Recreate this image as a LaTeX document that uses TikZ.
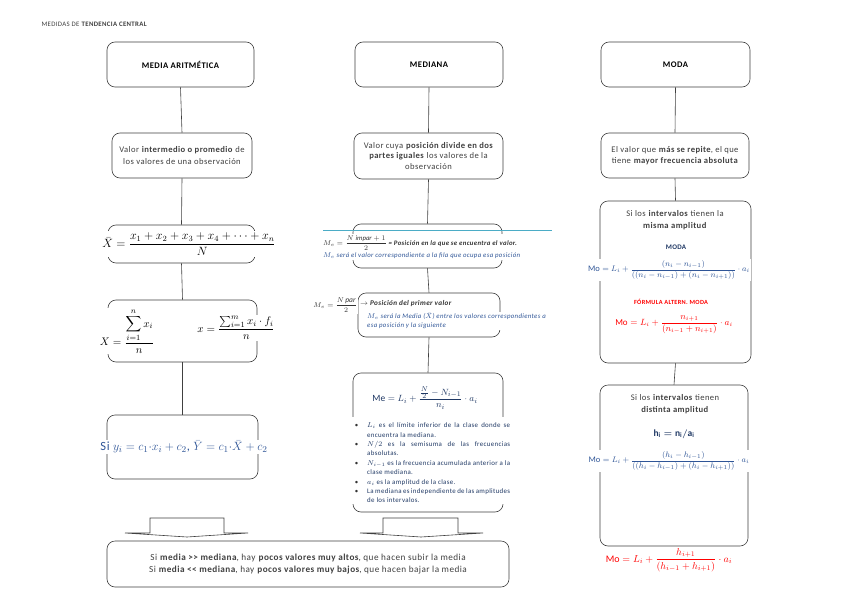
\documentclass[tikz,border=0pt]{standalone}
\usepackage{fontspec}
\setmainfont{Carlito}[LetterSpace=5]
\usepackage{amsmath}
\definecolor{fblue}{HTML}{2F5597}
\definecolor{dblue}{HTML}{1F3864}
\definecolor{cyanl}{HTML}{4BACC6}
\definecolor{tgray}{HTML}{404040}
\begin{document}
\begin{tikzpicture}[x=1pt,y=-1pt,
  box/.style={draw=black!75, rounded corners=8pt, line width=0.6pt, inner sep=0pt},
  ttl/.style={font=\bfseries\fontsize{8.6}{10}\selectfont},
  txt/.style={font=\fontsize{8.6}{11.5}\selectfont, align=center, text=tgray},
  fml/.style={fill=white, inner sep=1pt},
  conn/.style={draw=black!75, line width=0.6pt},
  barrow/.style={draw=black!75, line width=0.6pt, fill=white}]
\useasboundingbox (0,0) rectangle (848,599);
\fill[white] (0,0) rectangle (848,599);
% title
\node[anchor=west, font=\fontsize{6.8}{7.5}\selectfont, text=tgray] (title) at (38,24) {MEDIDAS DE \textbf{TENDENCIA CENTRAL}};

% ===== left column =====
\node[box, minimum width=147pt, minimum height=45pt, ttl] (l1) at (180.5,64.5) {MEDIA ARITMÉTICA};
\node[box, minimum width=140pt, minimum height=45pt, txt] (l2) at (182,155.5) {Valor \textbf{intermedio o promedio} de\\los valores de una observación};
\node[box, minimum width=147pt, minimum height=38pt] (l3) at (181.5,244) {};
\node[box, minimum width=149pt, minimum height=62pt] (l4) at (182.5,331) {};
\node[box, minimum width=151pt, minimum height=64pt] (l5) at (182.5,447) {};
\draw[conn] (l1.south) -- (l2.north);
\draw[conn] (l2.south) -- (l3.north);
\draw[conn] (l3.south) -- (l4.north);
\draw[conn] (l4.south) -- (l5.north);
\node[fml, font=\fontsize{11.5}{13}\selectfont] (f1) at (189,244) {$\bar{X}=\dfrac{x_1+x_2+x_3+x_4+\cdots+x_n}{N}$};
\node[fml, font=\fontsize{11}{13}\selectfont] (f2a) at (127,331) {$X=\dfrac{\displaystyle\sum_{i=1}^{n} x_i}{n}$};
\node[fml, font=\fontsize{11}{13}\selectfont] (f2b) at (236,328) {$x=\dfrac{\sum_{i=1}^{m} x_i\cdot f_i}{n}$};
\node[fml, text=fblue, font=\fontsize{12.5}{14}\selectfont] (f3) at (184,447) {Si $y_i=c_1{\cdot}x_i+c_2$, $\bar{Y}=c_1{\cdot}\bar{X}+c_2$};

% ===== middle column =====
\node[box, minimum width=148pt, minimum height=45pt, ttl] (m1) at (429,64.5) {MEDIANA};
\node[box, minimum width=149pt, minimum height=46pt, txt, font=\fontsize{8.6}{10.8}\selectfont] (m2) at (428.5,156) {Valor cuya \textbf{posición divide en dos}\\\textbf{partes iguales} los valores de la\\observación};
\node[box, minimum width=149pt, minimum height=44pt] (m3) at (427.5,246) {};
\node[box, minimum width=142pt, minimum height=44pt] (m4) at (429,315) {};
\node[box, minimum width=150pt, minimum height=139pt] (m5) at (428,442.5) {};
\draw[conn] (m1.south) -- (m2.north);
\draw[conn] (m2.south) -- (m3.north);
\draw[conn] (m3.south) -- (m4.north);
\draw[conn] (m4.south) -- (m5.north);
\coordinate (cl1) at (323,230);
\coordinate (cl2) at (552,230);
\draw[cyanl, line width=0.8pt] (cl1) -- (cl2);
\node[fml, anchor=west, font=\bfseries\itshape\fontsize{6.8}{7.5}\selectfont, text=black!80] (mt1) at (322,243) {$M_e=\dfrac{N\ \mathit{impar}+1}{2}$ = Posición en la que se encuentra el valor.};
\node[fml, anchor=west, font=\itshape\fontsize{6.8}{7.5}\selectfont, text=fblue] (mt2) at (322,256) {$M_e$ será el valor correspondiente a la fila que ocupa esa posición};
\node[fml, anchor=east, font=\bfseries\fontsize{7.5}{8}\selectfont, text=black!80] (mt3) at (358,305) {$M_e=\dfrac{N\,\mathit{par}}{2}$};
\node[fml, anchor=west, font=\bfseries\itshape\fontsize{7.2}{8}\selectfont, text=black!80] (mt4) at (359,304) {$\rightarrow$ Posición del primer valor};
\node[fml, anchor=north west, align=left, font=\itshape\fontsize{6.8}{9}\selectfont, text=fblue] (mt5) at (366,312) {$M_e$ será la Media ($\bar{X}$) entre los valores correspondientes a\\ esa posición y la siguiente};
\node[fml, font=\fontsize{9.5}{12}\selectfont, text=dblue] (mf) at (425,398) {$\mathrm{Me}=L_i+\dfrac{\frac{N}{2}-N_{i-1}}{n_i}\cdot a_i$};
\node[fml, anchor=north west, text width=160pt, align=justify, font=\fontsize{6.9}{9.4}\selectfont, text=dblue] (mlist) at (349,417) {%
\hyphenpenalty=10000 \exhyphenpenalty=10000
\begin{list}{\textcolor{black!80}{\textbullet}}{\setlength{\leftmargin}{17pt}\setlength{\labelwidth}{8pt}\setlength{\labelsep}{9pt}\setlength{\itemsep}{0pt}\setlength{\parsep}{0pt}\setlength{\topsep}{0pt}\setlength{\partopsep}{0pt}}
\item $L_i$ es el límite inferior de la clase donde se encuentra la mediana.
\item $N/2$ es la semisuma de las frecuencias absolutas.
\item $N_{i-1}$ es la frecuencia acumulada anterior a la clase mediana.
\item $a_i$ es la amplitud de la clase.
\item La mediana es independiente de las amplitudes de los intervalos.
\end{list}};

% ===== right column =====
\node[box, minimum width=149pt, minimum height=45pt, ttl] (r1) at (675.5,64.5) {MODA};
\node[box, minimum width=148pt, minimum height=45pt, txt] (r2) at (675,155.5) {El valor que \textbf{más se repite}, el que\\tiene \textbf{mayor frecuencia absoluta}};
\node[box, minimum width=151pt, minimum height=162pt] (r3) at (675.5,282) {};
\node[box, minimum width=148pt, minimum height=161pt] (r4) at (674,465.5) {};
\draw[conn] (r1.south) -- (r2.north);
\draw[conn] (r2.south) -- (r3.north);
\draw[conn] (r3.south) -- (r4.north);
\node[txt] (rt1) at (675,220) {Si los \textbf{intervalos} tienen la\\\textbf{misma amplitud}};
\node[font=\bfseries\fontsize{7}{8}\selectfont, text=dblue] (rt2) at (676,247) {MODA};
\node[fml, text=fblue, font=\fontsize{8.5}{10}\selectfont] (rf1) at (669,270) {$\mathrm{Mo}=L_i+\dfrac{(n_i-n_{i-1})}{((n_i-n_{i-1})+(n_i-n_{i+1}))}\cdot a_i$};
\node[font=\bfseries\fontsize{6.3}{7}\selectfont, text=red] (rt3) at (671,302) {FÓRMULA ALTERN. MODA};
\node[fml, text=red, font=\fontsize{9}{11}\selectfont] (rf2) at (674,325) {$\mathrm{Mo}=L_i+\dfrac{n_{i+1}}{(n_{i-1}+n_{i+1})}\cdot a_i$};
\node[txt] (rt4) at (675,404) {Si los \textbf{intervalos} tienen\\\textbf{distinta amplitud}};
\node[font=\fontsize{9.5}{10}\selectfont, text=dblue] (rt5) at (674,434) {$\boldsymbol{\mathrm{h}_\mathrm{i}=\mathrm{n}_\mathrm{i}/\mathrm{a}_\mathrm{i}}$};
\node[fml, text=fblue, font=\fontsize{8.5}{10}\selectfont] (rf3) at (669,461) {$\mathrm{Mo}=L_i+\dfrac{(h_i-h_{i-1})}{((h_i-h_{i-1})+(h_i-h_{i+1}))}\cdot a_i$};
\node[fml, text=red, font=\fontsize{10}{11}\selectfont] (rf4) at (669,560) {$\mathrm{Mo}=L_i+\dfrac{h_{i+1}}{(h_{i-1}+h_{i+1})}\cdot a_i$};

% ===== bottom =====
\draw[barrow] (150,518) -- (224,518) -- (224,533) -- (248,533) -- (187,537) -- (125,533) -- (150,533) -- cycle;
\draw[barrow] (383,518) -- (458,518) -- (458,533) -- (483,533) -- (421,537) -- (360,533) -- (383,533) -- cycle;
\node[box, minimum width=402pt, minimum height=46pt, txt, font=\fontsize{9.2}{12}\selectfont] (bot) at (308,564) {Si \textbf{media {>}{>} mediana}, hay \textbf{pocos valores muy altos}, que hacen subir la media\\Si \textbf{media {<}{<} mediana}, hay \textbf{pocos valores muy bajos}, que hacen bajar la media};
\end{tikzpicture}
\end{document}
